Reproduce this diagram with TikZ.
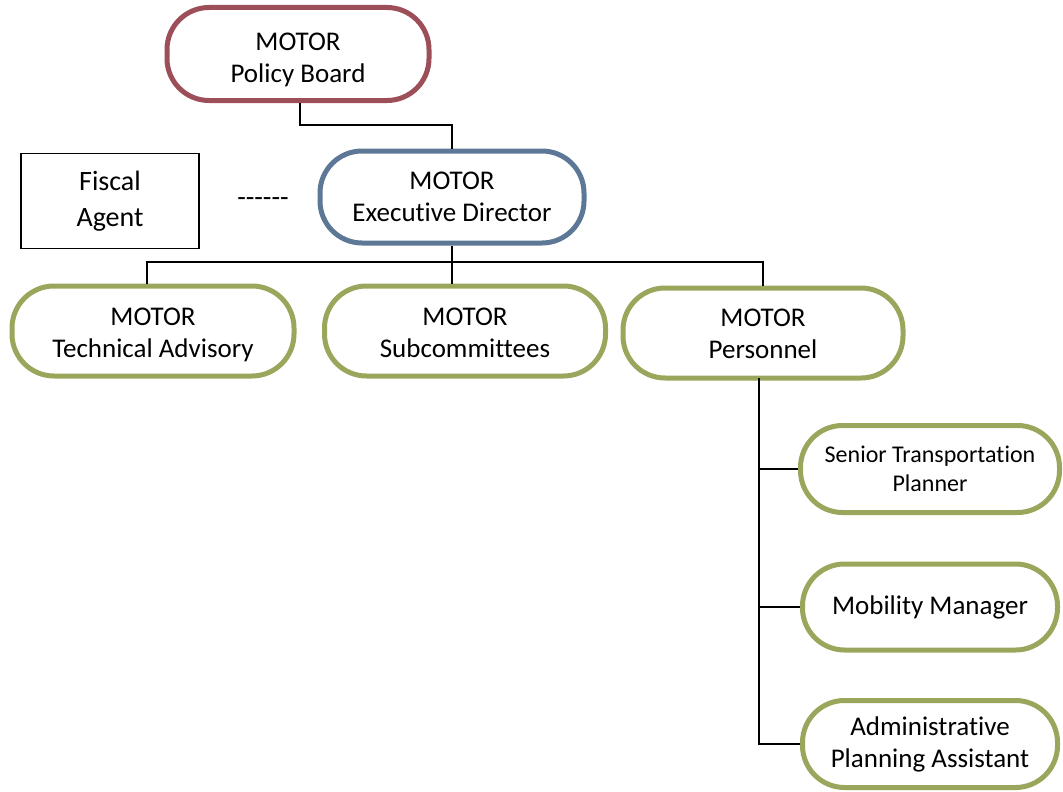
\documentclass[tikz,border=0pt]{standalone}
\usepackage{fontspec}
\setmainfont{Carlito}[Ligatures=NoCommon]
\usetikzlibrary{positioning}

\definecolor{boardred}{HTML}{9C4F59}
\definecolor{directorblue}{HTML}{5D7896}
\definecolor{unitgreen}{HTML}{9AA65C}

% two lines of text, lowered a little inside the box
\newcommand{\droptext}[3]{\raisebox{-#1}[\height][\depth]{\begin{tabular}{@{}c@{}}#2\\#3\end{tabular}}}

\tikzset{
  pill/.style={rectangle, rounded corners=42pt, line width=5pt, fill=white,
    align=center, font=\fontsize{27}{32}\selectfont, inner sep=0pt},
  link/.style={draw, line width=1.2pt}
}

\begin{document}
\begin{tikzpicture}[x=1pt, y=-1pt]
    \useasboundingbox (0,0) rectangle (1063,792);

    \node [pill, draw=boardred, minimum width=262pt, minimum height=93pt] (board) at (298,54) {\droptext{6pt}{MOTOR}{Policy Board}};
    \node [pill, draw=directorblue, minimum width=264pt, minimum height=92pt] (director) at (452,197) {MOTOR\\Executive Director};
    \node [rectangle, draw, line width=1.5pt, minimum width=178pt, minimum height=95pt, align=center,
      font=\fontsize{28}{36}\selectfont] (fiscal) at (110,201) {Fiscal\\Agent};
    \node [font=\fontsize{28}{34}\selectfont, inner sep=0pt] (dashes) at (263,202) {{-}{-}{-}{-}{-}{-}};

    \node [pill, draw=unitgreen, minimum width=282pt, minimum height=90pt] (tech) at (153,331) {\droptext{4pt}{MOTOR}{Technical Advisory}};
    \node [pill, draw=unitgreen, minimum width=281pt, minimum height=90pt] (subc) at (465,331) {\droptext{4pt}{MOTOR}{Subcommittees}};
    \node [pill, draw=unitgreen, minimum width=280pt, minimum height=90pt] (staff) at (763,333) {\droptext{3pt}{MOTOR}{Personnel}};

    \node [pill, draw=unitgreen, minimum width=259pt, minimum height=87pt, font=\fontsize{24}{29}\selectfont] (planner) at (930,469) {Senior Transportation\\Planner};
    \node [pill, draw=unitgreen, minimum width=255pt, minimum height=86pt] (mobility) at (930,607) {Mobility Manager};
    \node [pill, draw=unitgreen, minimum width=255pt, minimum height=87pt] (admin) at (930,744) {Administrative\\Planning Assistant};

    % board to director
    \coordinate (elbow) at (300,125);
    \draw [link] (board.south -| elbow) -- (elbow) -| (director.north);

    % director to the three units
    \coordinate (bus) at (452,262);
    \draw [link] (director.south) -- (director.south |- subc.north);
    \draw [link] (tech.north -| 147,0) -- (147,262) -- (staff.north |- bus) -- (staff.north);

    % personnel to staff posts
    \coordinate (spine) at (759,378);
    \draw [link] (spine) -- (spine |- admin.west) -- (admin.west);
    \draw [link] (spine |- planner.west) -- (planner.west);
    \draw [link] (spine |- mobility.west) -- (mobility.west);
\end{tikzpicture}
\end{document}
